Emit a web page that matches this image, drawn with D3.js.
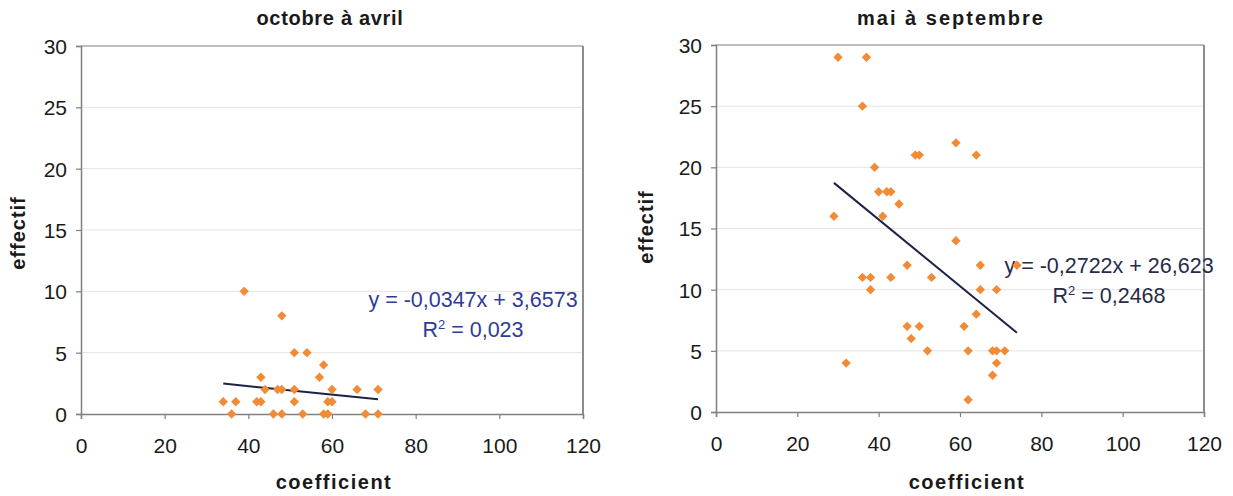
<!DOCTYPE html>
<html>
<head>
<meta charset="utf-8">
<script src="https://cdn.jsdelivr.net/npm/d3@7"></script>
<style>
  html, body { margin: 0; padding: 0; background: #ffffff; }
  svg { display: block; }
  text { font-family: "Liberation Sans", Arial, sans-serif; }
</style>
</head>
<body>
<svg id="chart" width="1233" height="496"></svg>
<script>
// October–April observations (coefficient, effectif)
const winterCoef = [39, 48, 51, 54, 58, 43, 57, 44, 47, 48, 51, 60, 66, 71,
                    34, 37, 42, 43, 51, 59, 60, 36, 46, 48, 53, 58, 59, 68, 71];
const winterCount = [10, 8, 5, 5, 4, 3, 3, 2, 2, 2, 2, 2, 2, 2,
                     1, 1, 1, 1, 1, 1, 1, 0, 0, 0, 0, 0, 0, 0, 0];

// May–September observations (coefficient, effectif)
const summerCoef = [30, 37, 36, 59, 49, 50, 64, 39, 40, 42, 43, 45, 29, 41, 59,
                    47, 65, 74, 36, 38, 43, 53, 38, 65, 69, 64, 47, 50, 61, 48,
                    52, 62, 68, 69, 71, 32, 69, 68, 62];
const summerCount = [29, 29, 25, 22, 21, 21, 21, 20, 18, 18, 18, 17, 16, 16, 14,
                     12, 12, 12, 11, 11, 11, 11, 10, 10, 10, 8, 7, 7, 7, 6,
                     5, 5, 5, 5, 5, 4, 4, 3, 1];

// Linear trend coefficients shown in the labels
const winterTrend = { slope: -0.0347, intercept: 3.6573, r2: "0,023", label: "y = -0,0347x + 3,6573" };
const summerTrend = { slope: -0.2722, intercept: 26.623, r2: "0,2468", label: "y = -0,2722x + 26,623" };

const xTickValues = [0, 20, 40, 60, 80, 100, 120];
const yTickValues = [0, 5, 10, 15, 20, 25, 30];
const panelTitles = ["octobre à avril", "mai à septembre"];
const xAxisTitle = "coefficient";
const yAxisTitle = "effectif";

const svg = d3.select("#chart");

function drawPanel(opts) {
  const { box, xs, ys, trend, title, titleSpacing, eqColor, eqPos, titlePos, xTitlePos, yTitlePos } = opts;
  const g = svg.append("g");

  const x = d3.scaleLinear().domain([0, 120]).range([box.left, box.right]);
  const y = d3.scaleLinear().domain([0, 30]).range([box.bottom, box.top]);

  // horizontal gridlines
  g.append("g")
    .selectAll("line")
    .data(yTickValues.filter(v => v > 0 && v < 30))
    .join("line")
    .attr("x1", box.left).attr("x2", box.right)
    .attr("y1", d => y(d)).attr("y2", d => y(d))
    .attr("stroke", "#e4e4e4").attr("stroke-width", 1);

  // plot-area frame (top and right)
  g.append("line")
    .attr("x1", box.left).attr("x2", box.right)
    .attr("y1", box.top).attr("y2", box.top)
    .attr("stroke", "#a8a8a8").attr("stroke-width", 1.5);
  g.append("line")
    .attr("x1", box.right).attr("x2", box.right)
    .attr("y1", box.top).attr("y2", box.bottom)
    .attr("stroke", "#8c8c8c").attr("stroke-width", 2);

  // axes
  const xAxis = d3.axisBottom(x).tickValues(xTickValues).tickSize(5).tickPadding(19);
  const yAxis = d3.axisLeft(y).tickValues(yTickValues).tickSize(5).tickPadding(9);

  const gx = g.append("g").attr("transform", `translate(0,${box.bottom})`).call(xAxis);
  const gy = g.append("g").attr("transform", `translate(${box.left},0)`).call(yAxis);
  [gx, gy].forEach(a => {
    a.select(".domain").attr("stroke", "#808080").attr("stroke-width", 1.5);
    a.selectAll(".tick line").attr("stroke", "#808080").attr("stroke-width", 1.2);
    a.selectAll(".tick text")
      .attr("fill", "#1a1a1a")
      .style("font-size", "21px")
      .style("font-family", "'Liberation Sans', Arial, sans-serif");
  });
  gy.selectAll(".tick text").attr("dy", "0.35em");

  // titles
  g.append("text")
    .attr("x", titlePos[0]).attr("y", titlePos[1])
    .attr("text-anchor", "middle")
    .style("font-size", "20px").style("font-weight", "bold")
    .style("letter-spacing", titleSpacing + "px")
    .attr("fill", "#1a1a1a")
    .text(title);
  g.append("text")
    .attr("x", xTitlePos[0]).attr("y", xTitlePos[1])
    .attr("text-anchor", "middle")
    .style("font-size", "20px").style("font-weight", "bold")
    .style("letter-spacing", "1.5px")
    .attr("fill", "#1a1a1a")
    .text(xAxisTitle);
  g.append("text")
    .attr("transform", `translate(${yTitlePos[0]},${yTitlePos[1]}) rotate(-90)`)
    .attr("text-anchor", "middle")
    .style("font-size", "20px").style("font-weight", "bold")
    .style("letter-spacing", "1px")
    .attr("fill", "#1a1a1a")
    .text(yAxisTitle);

  // trend equation
  const eq = g.append("text")
    .attr("x", eqPos[0]).attr("y", eqPos[1])
    .attr("text-anchor", "middle")
    .style("font-size", "21.5px")
    .attr("fill", eqColor);
  eq.append("tspan").attr("x", eqPos[0]).text(trend.label);
  const r2 = eq.append("tspan").attr("x", eqPos[0]).attr("dy", 30);
  r2.append("tspan").text("R");
  r2.append("tspan").attr("dy", -8).style("font-size", "13px").text("2");
  r2.append("tspan").attr("dy", 8).text(" = " + trend.r2);

  // trend line over the observed coefficient range
  const [xmin, xmax] = d3.extent(xs);
  g.append("line")
    .attr("x1", x(xmin)).attr("y1", y(trend.slope * xmin + trend.intercept))
    .attr("x2", x(xmax)).attr("y2", y(trend.slope * xmax + trend.intercept))
    .attr("stroke", "#1c2244").attr("stroke-width", 2);

  // diamond markers
  const diamond = d3.symbol().type(d3.symbolDiamond2).size(56);
  g.append("g")
    .selectAll("path")
    .data(xs.map((v, i) => [v, ys[i]]))
    .join("path")
    .attr("d", diamond)
    .attr("transform", d => `translate(${x(d[0])},${y(d[1])})`)
    .attr("fill", "#f28b36");
}

drawPanel({
  box: { left: 81, right: 583, top: 46, bottom: 414 },
  xs: winterCoef, ys: winterCount, trend: winterTrend,
  title: panelTitles[0], titleSpacing: 0.7, eqColor: "#2e3c96",
  eqPos: [473, 307], titlePos: [330, 25], xTitlePos: [334, 489], yTitlePos: [25, 233]
});

drawPanel({
  box: { left: 716, right: 1204, top: 45, bottom: 412 },
  xs: summerCoef, ys: summerCount, trend: summerTrend,
  title: panelTitles[1], titleSpacing: 2, eqColor: "#262c4a",
  eqPos: [1109, 273], titlePos: [951, 25], xTitlePos: [967, 489], yTitlePos: [653, 227]
});
</script>
</body>
</html>
